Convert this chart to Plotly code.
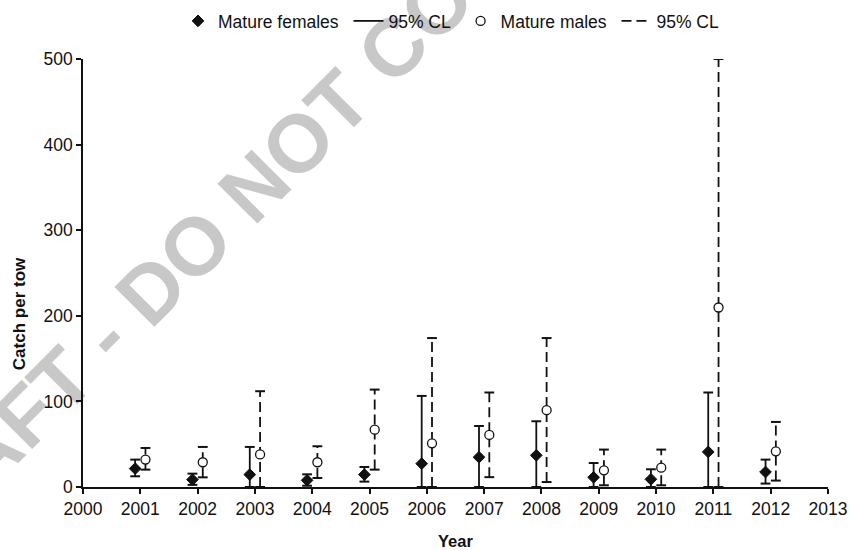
import plotly.graph_objects as go

# Survey years and catch-per-tow estimates with 95% confidence limits
years = [2001, 2002, 2003, 2004, 2005, 2006, 2007, 2008, 2009, 2010, 2011, 2012]

female_mean = [21.5, 8.6, 14.5, 7.8, 14.5, 27.3, 34.8, 37.0, 11.3, 9.0, 41.0, 17.5]
female_upper = [32.0, 15.6, 46.8, 14.8, 23.4, 106.4, 71.3, 76.8, 28.0, 20.7, 110.4, 32.0]
female_lower = [12.5, 2.5, 0.0, 1.5, 6.3, 0.0, 0.0, 0.0, 0.0, 0.0, 0.0, 4.0]

male_mean = [32.0, 28.9, 38.0, 28.9, 67.0, 51.0, 60.8, 89.7, 19.5, 22.6, 209.7, 41.7]
male_upper = [45.6, 46.8, 111.9, 47.6, 113.8, 174.0, 110.4, 174.0, 43.7, 43.7, 500.0, 76.0]
male_lower = [20.3, 11.3, 0.0, 10.5, 20.3, 0.0, 11.5, 5.8, 2.0, 2.0, 0.0, 7.5]

x_ticks = list(range(2000, 2014))
y_ticks = [0, 100, 200, 300, 400, 500]

FONT = "Liberation Sans, Arial, sans-serif"
INK = "#111111"
OFFSET = 0.09  # females drawn left of the year, males right
PAD = "\u00a0"  # extra room between legend entries


def segments(xs, lo, hi):
    sx, sy = [], []
    for x, a, b in zip(xs, lo, hi):
        sx += [x, x, None]
        sy += [a, b, None]
    return sx, sy


fx = [y - OFFSET for y in years]
mx = [y + OFFSET for y in years]

fig = go.Figure()

# confidence-limit stems
sx, sy = segments(fx, female_lower, female_upper)
fig.add_trace(go.Scatter(x=sx, y=sy, mode="lines", name="95% CL" + PAD,
                         line=dict(color=INK, width=1.8), legendrank=2,
                         hoverinfo="skip"))
sx, sy = segments(mx, male_lower, male_upper)
fig.add_trace(go.Scatter(x=sx, y=sy, mode="lines", name="95% CL",
                         line=dict(color=INK, width=1.8, dash="10px,5px"),
                         legendrank=4, hoverinfo="skip"))

# caps at the upper and lower limits
for xs, lo, hi in ((fx, female_lower, female_upper), (mx, male_lower, male_upper)):
    fig.add_trace(go.Scatter(x=xs + xs, y=hi + lo, mode="markers", showlegend=False,
                             marker=dict(symbol="line-ew", size=7,
                                         line=dict(color=INK, width=2)),
                             hoverinfo="skip"))

# means
fig.add_trace(go.Scatter(x=fx, y=female_mean, mode="markers",
                         name="Mature females" + PAD,
                         marker=dict(symbol="diamond", size=9, color=INK,
                                     line=dict(color=INK, width=1)),
                         legendrank=1))
fig.add_trace(go.Scatter(x=mx, y=male_mean, mode="markers",
                         name="Mature males" + PAD,
                         marker=dict(symbol="circle", size=9, color="white",
                                     line=dict(color=INK, width=1.3)),
                         legendrank=3))

axis_common = dict(showline=True, linecolor=INK, linewidth=1.5, ticks="outside",
                   ticklen=5, tickwidth=1.5, tickcolor=INK, showgrid=False,
                   zeroline=False, automargin=False,
                   tickfont=dict(family=FONT, size=17.5, color=INK))

fig.update_layout(
    width=850, height=550,
    margin=dict(l=83, r=22, t=59, b=63, autoexpand=False),
    paper_bgcolor="white", plot_bgcolor="white",
    font=dict(family=FONT, color=INK),
    xaxis=dict(range=[2000, 2013], tickvals=x_ticks, **axis_common),
    yaxis=dict(range=[0, 500], tickvals=y_ticks, **axis_common),
    showlegend=True,
    legend=dict(orientation="h", xref="container", yref="container",
                x=178 / 850, xanchor="left", y=1 - 21 / 550, yanchor="middle",
                font=dict(family=FONT, size=17.5, color=INK), bgcolor="rgba(0,0,0,0)",
                traceorder="normal", itemwidth=30),
    annotations=[
        dict(text="<b>Year</b>", xref="paper", yref="paper", x=0.5, y=-0.126,
             xanchor="center", yanchor="middle", showarrow=False,
             font=dict(family=FONT, size=16.5, color=INK)),
        dict(text="<b>Catch per tow</b>", xref="paper", yref="paper", x=-0.086,
             y=0.406, xanchor="center", yanchor="middle", textangle=-90,
             showarrow=False, font=dict(family=FONT, size=17, color=INK)),
    ],
    shapes=[
        dict(type="rect", xref="paper", yref="paper", x0=0.112, x1=0.212,
             y0=0.560, y1=0.660, line=dict(width=0), fillcolor="rgba(0,0,0,0)",
             layer="below",
             label=dict(text="DRAFT - DO NOT COPY", textangle=-45,
                        textposition="middle center",
                        font=dict(family=FONT, size=82, color="#c8c8c8",
                                  weight="bold"))),
    ],
)

fig.write_html("out.html")
